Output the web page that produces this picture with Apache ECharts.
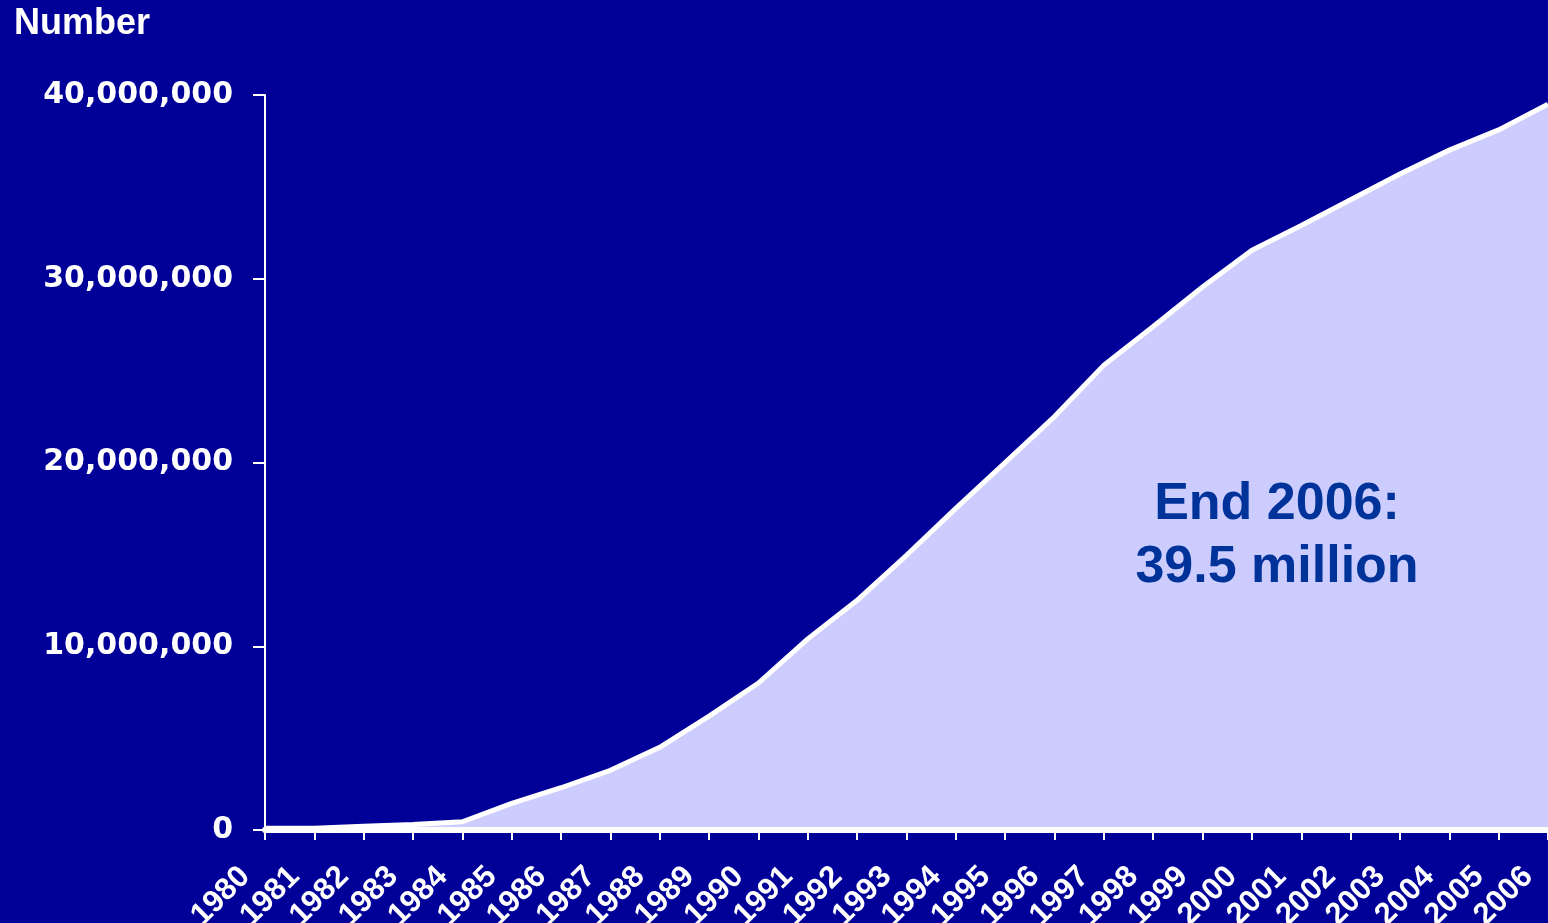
<!DOCTYPE html>
<html>
<head>
<meta charset="utf-8">
<script src="https://cdn.jsdelivr.net/npm/echarts@6/dist/echarts.min.js"></script>
<style>
html,body{margin:0;padding:0;background:#000099;}
#c{width:1548px;height:923px;}
</style>
</head>
<body>
<div id="c"></div>
<script>
const years = ['1980','1981','1982','1983','1984','1985','1986','1987','1988','1989','1990','1991','1992','1993','1994','1995','1996','1997','1998','1999','2000','2001','2002','2003','2004','2005','2006'];
const subscribers = [100000,100000,200000,300000,450000,1450000,2300000,3250000,4500000,6200000,8000000,10400000,12500000,14950000,17500000,20000000,22500000,25300000,27400000,29550000,31550000,32900000,34300000,35700000,37000000,38100000,39500000];
const yTicks = [0,10000000,20000000,30000000,40000000];
const axisTitle = 'Number';
const noteText = ['End 2006:', '39.5 million'];

const chart = echarts.init(document.getElementById('c'), null, {renderer:'canvas'});
const fmt = v => v === 0 ? '0' : v.toLocaleString('en-US');
chart.setOption({
  backgroundColor: '#000099',
  animation: false,
  title: {
    text: axisTitle, left: 14, top: 6, padding: 0,
    textStyle: {color:'#ffffff', fontSize:36, fontWeight:'bold', fontFamily:'Liberation Sans'}
  },
  grid: {left:265, right:0, top:95, bottom:93, containLabel:false, outerBoundsMode:'none'},
  xAxis: {
    type:'category', data: years, boundaryGap:false, z: 5,
    axisLine:{show:true, lineStyle:{color:'#ffffff', width:6}},
    axisTick:{show:true, alignWithLabel:true, interval:0, length:10, lineStyle:{color:'#ffffff', width:2}},
    axisLabel:{interval:0, rotate:45, margin:22, padding:[0,28,0,0], color:'#ffffff', fontSize:31, fontWeight:'bold', fontFamily:'Liberation Sans', hideOverlap:false},
    splitLine:{show:false}
  },
  yAxis: {
    type:'value', min: yTicks[0], max: yTicks[yTicks.length-1], interval: yTicks[1]-yTicks[0],
    axisLine:{show:true, lineStyle:{color:'#ffffff', width:2}},
    axisTick:{show:true, length:12, lineStyle:{color:'#ffffff', width:2}},
    axisLabel:{margin:32, color:'#ffffff', fontSize:30, fontWeight:'bold', fontFamily:'DejaVu Sans', formatter: fmt},
    splitLine:{show:false}
  },
  series: [{
    type:'line', data: subscribers, symbol:'none', smooth:false,
    lineStyle:{color:'#ffffff', width:5},
    areaStyle:{color:'#CCCCFF', opacity:1},
    z: 1
  }],
  graphic: [{
    type:'text', x:1277, y:473, z:10,
    style:{text: noteText.join('\n'), fill:'#003399', font:'bold 52px "Liberation Sans"', textAlign:'center', lineHeight:63}
  }]
});
</script>
</body>
</html>
